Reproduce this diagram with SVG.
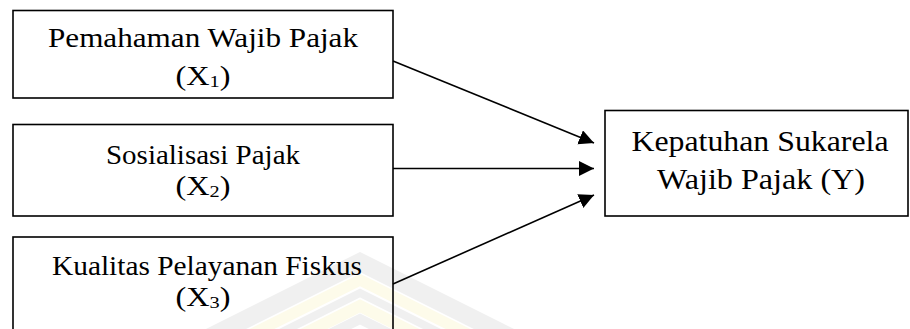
<svg xmlns="http://www.w3.org/2000/svg" width="910" height="329" viewBox="0 0 910 329">
  <style>
    .box { fill: none; stroke: #000; stroke-width: 1.6; }
    .lbl { font-family: "Liberation Serif", "Times New Roman", serif; font-size: 27px; fill: #000; text-anchor: middle; }
    .big { font-size: 29px; }
    .sub { font-size: 17px; }
    .edge { stroke: #000; stroke-width: 1.6; fill: none; }
    .wm-g { fill: none; stroke: #f0f0f0; stroke-linejoin: miter; }
    .wm-y { fill: none; stroke: #fdfbea; stroke-linejoin: miter; }
  </style>
  <defs>
    <marker id="head" markerUnits="userSpaceOnUse" markerWidth="18" markerHeight="18" refX="15" refY="7.5" orient="auto">
      <path d="M0,0 L15,7.5 L0,15 Z" fill="#000"/>
    </marker>
  </defs>

  <!-- faint logo watermark behind the lower part -->
  <g id="watermark">
    <polyline class="wm-g" stroke-width="18" points="80,402 360,262 660,412"/>
    <polyline class="wm-y" stroke-width="11" points="80,420 360,280 660,430"/>
    <polyline class="wm-g" stroke-width="8" points="80,433 360,293 660,443"/>
    <polyline class="wm-y" stroke-width="12" points="80,446 360,306 660,456"/>
    <polyline class="wm-g" stroke-width="10" points="80,459 360,319 660,469"/>
  </g>

  <g id="x1">
    <rect class="box" x="13" y="10.5" width="380" height="87.5"/>
    <text class="lbl" x="203" y="47" textLength="310" lengthAdjust="spacingAndGlyphs">Pemahaman Wajib Pajak</text>
    <text class="lbl" x="203" y="85" textLength="55" lengthAdjust="spacingAndGlyphs">(X<tspan class="sub" dy="2">1</tspan><tspan dy="-2">)</tspan></text>
  </g>

  <g id="x2">
    <rect class="box" x="13" y="124.5" width="380" height="91.5"/>
    <text class="lbl" x="203" y="164" textLength="194" lengthAdjust="spacingAndGlyphs">Sosialisasi Pajak</text>
    <text class="lbl" x="203" y="195" textLength="55" lengthAdjust="spacingAndGlyphs">(X<tspan class="sub" dy="2">2</tspan><tspan dy="-2">)</tspan></text>
  </g>

  <g id="x3">
    <rect class="box" x="13" y="237" width="380" height="110"/>
    <text class="lbl" x="207" y="275" textLength="310" lengthAdjust="spacingAndGlyphs">Kualitas Pelayanan Fiskus</text>
    <text class="lbl" x="203" y="306" textLength="55" lengthAdjust="spacingAndGlyphs">(X<tspan class="sub" dy="2">3</tspan><tspan dy="-2">)</tspan></text>
  </g>

  <g id="y">
    <rect class="box" x="605" y="110.5" width="303" height="105.5"/>
    <text class="lbl big" x="760" y="151" textLength="257" lengthAdjust="spacingAndGlyphs">Kepatuhan Sukarela</text>
    <text class="lbl big" x="761" y="189" textLength="208" lengthAdjust="spacingAndGlyphs">Wajib Pajak (Y)</text>
  </g>

  <g id="connectors">
    <line class="edge" x1="393" y1="61" x2="594" y2="143" marker-end="url(#head)"/>
    <line class="edge" x1="393" y1="168.5" x2="594" y2="168.5" marker-end="url(#head)"/>
    <line class="edge" x1="393" y1="284" x2="594" y2="195" marker-end="url(#head)"/>
  </g>
</svg>
